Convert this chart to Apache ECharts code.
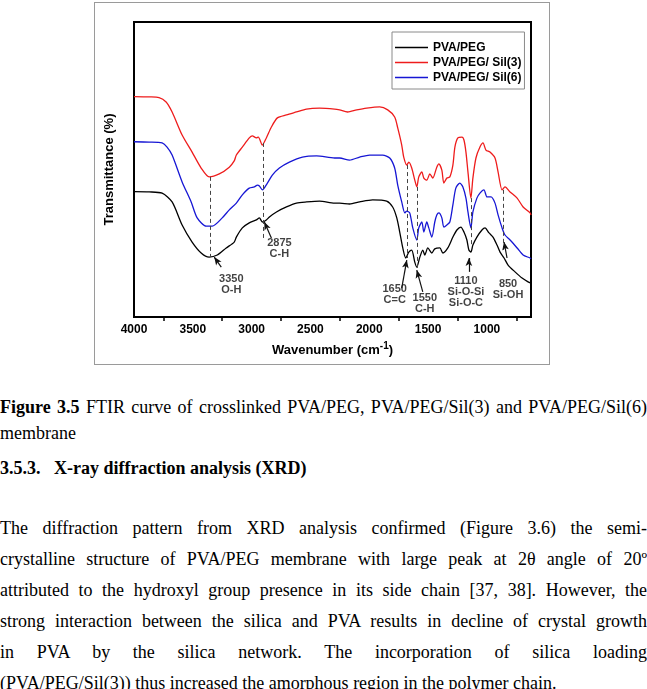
<!DOCTYPE html>
<html>
<head>
<meta charset="utf-8">
<title>FTIR PVA/PEG</title>
<script src="https://cdn.jsdelivr.net/npm/echarts@6/dist/echarts.min.js"></script>
<style>
    body { margin: 0; width: 647px; height: 689px; overflow: hidden; background: #fff; position: relative; font-family: "Liberation Serif", "Times New Roman", serif; color: #000; }
    #chart { position: absolute; left: 94px; top: 2px; width: 454px; height: 361px; border: 1px solid #9a9a9a; }
    .txt { position: absolute; left: 0; width: 647px; font-size: 18px; white-space: nowrap; }
    .txt div { text-align: justify; text-align-last: justify; }
    .txt div.last { text-align-last: left; }
    .cap { top: 394px; line-height: 26px; }
    .head { top: 455px; line-height: 26px; font-weight: bold; }
    .para { top: 513px; line-height: 31px; }
</style>
</head>
<body>
<div id="chart"></div>
<div class="txt cap">
    <div><b>Figure 3.5</b> FTIR curve of crosslinked PVA/PEG, PVA/PEG/Sil(3) and PVA/PEG/Sil(6)</div>
    <div class="last">membrane</div>
</div>
<div class="txt head"><div class="last">3.5.3.&nbsp;&nbsp;&nbsp;X-ray diffraction analysis (XRD)</div></div>
<div class="txt para">
    <div>The diffraction pattern from XRD analysis confirmed (Figure 3.6) the semi-</div>
    <div>crystalline structure of PVA/PEG membrane with large peak at 2θ angle of 20º</div>
    <div>attributed to the hydroxyl group presence in its side chain [37, 38]. However, the</div>
    <div>strong interaction between the silica and PVA results in decline of crystal growth</div>
    <div>in PVA by the silica network. The incorporation of silica loading</div>
    <div class="last">(PVA/PEG/Sil(3)) thus increased the amorphous region in the polymer chain.</div>
</div>
<script>
    // FTIR 曲线：横轴波数 (cm-1)，纵轴透过率（无刻度，任意单位）
    var seriesNames = ['PVA/PEG', 'PVA/PEG/ Sil(3)', 'PVA/PEG/ Sil(6)'];
    var seriesColors = ['#000000', '#ee1c1c', '#1616d4'];
    var wavenumberTicks = [4000, 3500, 3000, 2500, 2000, 1500, 1000];
    var minorTicks = [3750, 3250, 2750, 2250, 1750, 1250, 750];

    var pvaPeg = [
        [4000, 42.5], [3872, 42.4], [3761, 42.0], [3676, 39.0], [3591, 31.2], [3506, 25.4],
        [3429, 21.7], [3361, 20.3], [3292, 21.0], [3216, 23.4], [3148, 25.4], [3130, 27.1],
        [3079, 30.2], [3020, 31.9], [2960, 32.9], [2934, 33.6], [2909, 32.2], [2875, 32.9],
        [2849, 33.9], [2789, 35.6], [2704, 37.3], [2619, 38.6], [2534, 39.0], [2423, 39.3],
        [2295, 38.6], [2252, 38.6], [2167, 38.3], [2082, 39.0], [1971, 39.7], [1852, 39.3],
        [1801, 37.3], [1766, 33.6], [1741, 28.8], [1715, 23.4], [1690, 20.0], [1664, 22.0],
        [1639, 22.7], [1613, 18.6], [1596, 16.9], [1570, 20.3], [1545, 22.7], [1528, 21.0],
        [1502, 23.4], [1468, 21.7], [1443, 23.1], [1400, 23.4], [1374, 21.7], [1332, 23.4],
        [1289, 27.1], [1255, 29.5], [1221, 30.5], [1195, 28.8], [1170, 26.1], [1153, 22.7],
        [1136, 22.0], [1119, 24.4], [1085, 27.1], [1042, 29.5], [1016, 30.2], [982, 28.5],
        [948, 27.1], [914, 24.4], [888, 22.0], [854, 20.0], [820, 17.6], [761, 15.3],
        [701, 13.2], [650, 11.9], [625, 11.5]
    ];
    var pvaPegSil3 = [
        [4000, 74.7], [3872, 74.6], [3787, 74.4], [3727, 72.9], [3676, 69.5], [3591, 61.7],
        [3506, 55.9], [3429, 50.5], [3361, 47.5], [3275, 48.5], [3190, 50.8], [3148, 52.9],
        [3130, 54.9], [3079, 57.6], [3020, 60.7], [2994, 61.4], [2960, 60.7], [2943, 61.0],
        [2909, 58.3], [2875, 60.7], [2832, 64.4], [2781, 67.5], [2704, 68.5], [2619, 69.5],
        [2534, 70.5], [2423, 70.8], [2295, 70.5], [2252, 70.2], [2184, 69.5], [2107, 70.2],
        [2022, 70.8], [1911, 71.2], [1843, 70.2], [1784, 67.8], [1758, 64.1], [1724, 58.3],
        [1707, 54.2], [1681, 51.5], [1664, 52.5], [1639, 50.5], [1613, 46.4], [1596, 44.1],
        [1579, 47.5], [1553, 49.2], [1536, 47.1], [1511, 46.4], [1485, 48.5], [1460, 47.1],
        [1426, 50.8], [1408, 51.9], [1383, 49.8], [1366, 45.4], [1340, 47.1], [1315, 47.5],
        [1289, 51.5], [1272, 57.6], [1247, 60.7], [1212, 61.0], [1195, 60.0], [1178, 55.9],
        [1161, 49.2], [1136, 40.3], [1119, 47.1], [1093, 53.9], [1059, 57.6], [1033, 59.0],
        [1008, 56.6], [974, 55.9], [931, 53.9], [905, 49.2], [871, 43.1], [846, 44.1],
        [803, 42.4], [743, 40.3], [692, 37.3], [633, 35.3], [625, 34.6]
    ];
    var pvaPegSil6 = [
        [4000, 59.4], [3872, 59.3], [3761, 59.0], [3719, 57.6], [3676, 54.9], [3591, 45.8],
        [3514, 39.0], [3463, 33.6], [3386, 30.8], [3335, 30.8], [3250, 33.6], [3190, 36.3],
        [3130, 38.6], [3079, 41.4], [3020, 43.7], [2977, 44.1], [2951, 44.7], [2934, 44.4],
        [2909, 43.1], [2866, 45.4], [2824, 48.1], [2764, 50.5], [2679, 52.5], [2568, 54.2],
        [2448, 54.6], [2295, 53.9], [2252, 53.9], [2167, 53.2], [2082, 54.2], [1997, 54.9],
        [1886, 54.9], [1826, 53.9], [1784, 50.5], [1758, 44.7], [1724, 39.0], [1698, 35.3],
        [1681, 35.9], [1656, 35.3], [1630, 30.2], [1596, 26.1], [1579, 30.2], [1553, 32.2],
        [1536, 28.8], [1511, 32.2], [1494, 30.2], [1468, 27.1], [1443, 32.2], [1426, 34.6],
        [1408, 35.3], [1383, 33.6], [1366, 30.5], [1340, 31.2], [1315, 32.2], [1289, 38.0],
        [1264, 43.7], [1230, 45.4], [1204, 44.1], [1178, 40.3], [1161, 35.6], [1136, 30.2],
        [1119, 35.6], [1085, 40.3], [1059, 42.0], [1025, 43.1], [999, 40.7], [965, 40.7],
        [931, 38.6], [905, 34.6], [871, 30.2], [846, 27.8], [803, 26.1], [743, 23.4],
        [692, 21.0], [633, 20.0], [625, 19.7]
    ];

    // 谱带虚线：[波数, 上端, 下端]
    var bandLines = [[3350, 47.5, 20.3], [2900, 59.0, 25.8], [1681, 51.5, 20.0],
        [1596, 44.1, 16.6], [1136, 40.3, 24.0], [863, 43.1, 22.0]];
    // 谱带标注文字：[波数, 透过率, 文本]
    var bandLabels = [[3173, 11.0, '3350\nO-H'], [2764, 23.4, '2875\nC-H'], [1784, 7.6, '1650\nC=C'],
        [1528, 4.7, '1550\nC-H'], [1178, 8.5, '1110\nSi-O-Si\nSi-O-C'], [820, 9.3, '850\nSi-OH']];
    // 箭头：[起点波数, 起点值, 终点波数, 终点值]
    var bandArrows = [[3258, 16.9, 3318, 20.3], [2832, 26.8, 2892, 32.2], [1724, 9.8, 1681, 19.3],
        [1545, 8.5, 1596, 15.9], [1153, 15.3, 1153, 20.0], [829, 20.0, 854, 25.4]];

    var chart = echarts.init(document.getElementById('chart'));
    var font = 'Liberation Sans, Arial, sans-serif';

    function each(arr, fn) { for (var i = 0; i < arr.length; i++) fn(arr[i], i); }

    function buildMarkLines() {
        var list = [];
        each(bandLines, function (b) {
            list.push([{ coord: [b[0], b[1]], symbol: 'none' },
                { coord: [b[0], b[2]], symbol: 'none', lineStyle: { type: [4, 3], color: '#444', width: 1 } }]);
        });
        each(bandArrows, function (a) {
            list.push([{ coord: [a[0], a[1]], symbol: 'none' },
                { coord: [a[2], a[3]], symbol: 'arrow', symbolSize: [5, 8], lineStyle: { type: 'solid', color: '#111', width: 1.2 } }]);
        });
        return list;
    }

    function lineSeries(name, data, color, extra) {
        var s = {
            name: name,
            type: 'line',
            data: data,
            symbol: 'none',
            showSymbol: false,
            smooth: 0.25,
            lineStyle: { color: color, width: 1.3 },
            itemStyle: { color: color },
            animation: false,
            z: 3
        };
        if (extra) s.markLine = extra;
        return s;
    }

    chart.setOption({
        animation: false,
        grid: { left: 39, top: 19, width: 397, height: 295, show: true, borderColor: '#000', borderWidth: 2 },
        legend: {
            data: seriesNames,
            orient: 'vertical',
            left: 297, top: 29,
            padding: [9, 3, 5, 3],
            icon: 'rect',
            itemWidth: 33, itemHeight: 1.5, itemGap: 2,
            borderColor: '#8a8a8a', borderWidth: 1,
            textStyle: { fontFamily: font, fontWeight: 'bold', fontSize: 12, color: '#000', lineHeight: 13 }
        },
        xAxis: {
            type: 'value',
            inverse: true,
            min: 625, max: 4000,
            name: '{a|Wavenumber (cm}{s|-1}{a|)}',
            nameLocation: 'middle',
            nameGap: 24,
            nameTextStyle: {
                rich: {
                    a: { fontFamily: font, fontWeight: 'bold', fontSize: 13, color: '#000' },
                    s: { fontFamily: font, fontWeight: 'bold', fontSize: 10, color: '#000', padding: [0, 0, 8, 0] }
                }
            },
            axisLine: { lineStyle: { color: '#000', width: 2 } },
            axisTick: { customValues: minorTicks, length: 4, lineStyle: { color: '#000', width: 1.5 } },
            axisLabel: {
                customValues: wavenumberTicks, margin: 7,
                formatter: function (v) { return String(v); },
                fontFamily: font, fontWeight: 'bold', fontSize: 12, color: '#000'
            },
            splitLine: { show: false }
        },
        yAxis: {
            type: 'value',
            min: 0, max: 100,
            name: 'Transmittance (%)',
            nameLocation: 'middle',
            nameGap: 18,
            nameTextStyle: { fontFamily: font, fontWeight: 'bold', fontSize: 13, color: '#000' },
            axisLine: { lineStyle: { color: '#000', width: 2 } },
            axisTick: { show: false },
            axisLabel: { show: false },
            splitLine: { show: false }
        },
        series: [
            lineSeries(seriesNames[0], pvaPeg, seriesColors[0], {
                silent: true,
                symbol: ['none', 'none'],
                label: { show: false },
                data: buildMarkLines(),
                animation: false
            }),
            lineSeries(seriesNames[1], pvaPegSil3, seriesColors[1]),
            lineSeries(seriesNames[2], pvaPegSil6, seriesColors[2]),
            {
                name: 'bands',
                type: 'scatter',
                symbolSize: 0,
                silent: true,
                data: bandLabels.map(function (b) { return { value: [b[0], b[1]], name: b[2] }; }),
                label: {
                    show: true,
                    position: 'inside',
                    formatter: '{b}',
                    align: 'center',
                    fontFamily: font, fontWeight: 'bold', fontSize: 11, lineHeight: 11, color: '#111'
                },
                z: 5
            }
        ]
    });
</script>
</body>
</html>
